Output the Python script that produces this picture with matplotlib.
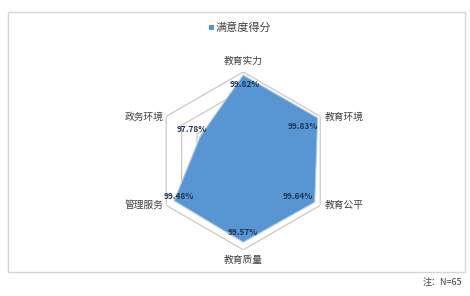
import numpy as np
import matplotlib
matplotlib.use("Agg")
import matplotlib.pyplot as plt
from matplotlib.patches import Rectangle

plt.rcParams['font.family'] = ['Noto Sans CJK SC', 'DejaVu Sans']

categories = ["教育实力", "教育环境", "教育公平", "教育质量", "管理服务", "政务环境"]
values = [99.82, 99.83, 99.64, 99.57, 99.48, 97.78]
value_labels = ["99.82%", "99.83%", "99.64%", "99.57%", "99.48%", "97.78%"]
series_name = "满意度得分"
ring_ticks = [96, 97, 98, 99, 100]
r_min, r_max = 95, 100
note_text = "注：N=65"

fill_color = "#5796D3"
grid_color = "#CFC8C0"
text_color = "#404040"

fig = plt.figure(figsize=(4.70, 2.96), dpi=100)

# chart box
fig.patches.append(Rectangle((8 / 470, 1 - 272 / 296), (465 - 8) / 470, (272 - 12) / 296,
                             transform=fig.transFigure, fill=False,
                             edgecolor="#D6D6D6", linewidth=1.0))

ax = fig.add_axes([0.328, 0.156, 0.379, 0.601], projection="polar")
ax.set_theta_offset(np.pi / 2)
ax.set_theta_direction(-1)
ax.set_ylim(r_min, r_max)

n = len(categories)
theta = np.linspace(0, 2 * np.pi, n, endpoint=False)
theta_c = np.append(theta, theta[0])

# hexagonal rings
for r in ring_ticks:
    ax.plot(theta_c, [r] * (n + 1), color=grid_color, linewidth=0.9, zorder=1)

vals_c = np.append(values, values[0])
ax.fill(theta_c, vals_c, color=fill_color, zorder=2, linewidth=0)
ax.plot(theta_c, vals_c, color="#A9C9EA", linewidth=0.8, zorder=3)

ax.grid(False)
ax.spines["polar"].set_visible(False)
ax.set_yticklabels([])
ax.set_xticks(theta)
ax.set_xticklabels([])
ax.tick_params(length=0)
ax.set_facecolor("none")

# category labels, anchored at the outer ring vertex
for t, c in zip(theta, categories):
    ang = np.degrees(t)
    if ang < 1:
        off, ha, va = (0, 4), "center", "bottom"
    elif abs(ang - 180) < 1:
        off, ha, va = (0, -4), "center", "top"
    elif ang < 180:
        off, ha, va = (3, 0), "left", "center"
    else:
        off, ha, va = (-2, 0), "right", "center"
    ax.annotate(c, (t, r_max), xytext=off, textcoords="offset points",
                ha=ha, va=va, fontsize=7, color=text_color, annotation_clip=False)

# data labels
offsets = [(1, -7), (-11, -6), (-12, 4), (0, 7), (3, 3), (-6, 5)]
for t, v, lab, off in zip(theta, values, value_labels, offsets):
    ax.annotate(lab, (t, v), xytext=off, textcoords="offset points",
                ha="center", va="center", fontsize=6, fontweight="bold",
                color="#1F3550", zorder=5)

# legend
fig.patches.append(Rectangle((209 / 470, 1 - 30 / 296), 4.5 / 470, 4.5 / 296,
                             transform=fig.transFigure, facecolor=fill_color,
                             edgecolor="none"))
fig.text(216 / 470, 1 - 27 / 296, series_name, fontsize=8, color=text_color,
         ha="left", va="center")

fig.text(423 / 470, 1 - 283 / 296, note_text, fontsize=6.5, color=text_color,
         ha="left", va="center")

fig.savefig("out.png", dpi=100)
